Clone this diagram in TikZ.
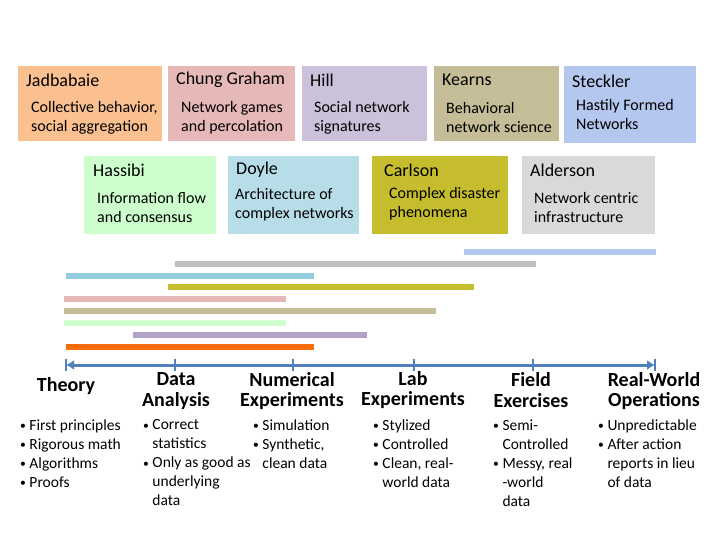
\documentclass[tikz,border=0pt]{standalone}
\usepackage{fontspec}
\setmainfont{Carlito}
\usetikzlibrary{positioning,arrows.meta}

% box and bar colours
\definecolor{cJad}{HTML}{FAC090}
\definecolor{cChung}{HTML}{E6B9B8}
\definecolor{cHill}{HTML}{CCC1DA}
\definecolor{cKearns}{HTML}{C4BD97}
\definecolor{cSteck}{HTML}{B4C7EE}
\definecolor{cHass}{HTML}{CCFFCC}
\definecolor{cDoyle}{HTML}{B7DEE8}
\definecolor{cCarl}{HTML}{C5BD2D}
\definecolor{cAlder}{HTML}{D9D9D9}
\definecolor{bDoyle}{HTML}{93CDDD}
\definecolor{bGray}{HTML}{BFBFBF}
\definecolor{bHill}{HTML}{B3A2C7}
\definecolor{bOrange}{HTML}{F96C0A}
\definecolor{axisblue}{HTML}{4F81BD}

\begin{document}
\begin{tikzpicture}[x=1pt,y=-1pt,
  pbox/.style={rectangle, anchor=north west, inner sep=0, outer sep=0},
  ptitle/.style={anchor=west, inner sep=0, font=\fontsize{18}{21}\selectfont},
  pbody/.style={anchor=west, align=left, inner sep=0, font=\fontsize{16}{19}\selectfont},
  bar/.style={line width=6.5pt},
  head/.style={align=center, inner sep=0, font=\fontsize{20}{20.5}\selectfont\bfseries},
  items/.style={anchor=west, align=left, inner sep=0, font=\fontsize{15.5}{19}\selectfont},
  axis/.style={draw=axisblue, line width=3pt, {Latex[length=8pt,width=10pt]}-{Latex[length=8pt,width=10pt]}},
  tick/.style={draw=axisblue, line width=2pt}]
\useasboundingbox (0,0) rectangle (720,540);
\def\bul{\raisebox{0.1ex}{\scalebox{0.75}{\textbullet}}\ }
\def\ind{\hphantom{\bul}}

% first row of people
\node[pbox, fill=cJad, minimum width=144, minimum height=75] (jad) at (18,66) {};
\node[ptitle] (jadT) at (26,80) {Jadbabaie};
\node[pbody] (jadB) at (31,118) {Collective behavior,\\social aggregation};
\node[pbox, fill=cChung, minimum width=127, minimum height=75] (chung) at (168,66) {};
\node[ptitle] (chungT) at (176,80) {Chung Graham};
\node[pbody] (chungB) at (181,118) {Network games\\and percolation};
\node[pbox, fill=cHill, minimum width=125, minimum height=75] (hill) at (302,66) {};
\node[ptitle] (hillT) at (310,80) {Hill};
\node[pbody] (hillB) at (314,118) {Social network\\signatures};
\node[pbox, fill=cKearns, minimum width=125, minimum height=75] (kearns) at (434,66) {};
\node[ptitle] (kearnsT) at (442,80) {Kearns};
\node[pbody] (kearnsB) at (446,118) {Behavioral\\network science};
\node[pbox, fill=cSteck, minimum width=132, minimum height=77] (steck) at (564,66) {};
\node[ptitle] (steckT) at (572,81) {Steckler};
\node[pbody] (steckB) at (576,115) {Hastily Formed\\Networks};

% second row of people
\node[pbox, fill=cHass, minimum width=132, minimum height=78] (hass) at (84,156) {};
\node[ptitle] (hassT) at (93,170) {Hassibi};
\node[pbody] (hassB) at (97,208) {Information flow\\and consensus};
\node[pbox, fill=cDoyle, minimum width=131, minimum height=78] (doyle) at (228,156) {};
\node[ptitle] (doyleT) at (236,170) {Doyle};
\node[pbody] (doyleB) at (235,205) {Architecture of\\complex networks};
\node[pbox, fill=cCarl, minimum width=136, minimum height=78] (carl) at (372,156) {};
\node[ptitle] (carlT) at (384,170) {Carlson};
\node[pbody] (carlB) at (389,204) {Complex disaster\\phenomena};
\node[pbox, fill=cAlder, minimum width=133, minimum height=78] (alder) at (522,156) {};
\node[ptitle] (alderT) at (530,170) {Alderson};
\node[pbody] (alderB) at (534,208) {Network centric\\infrastructure};

% time bars
\draw[bar, cSteck] (464,252) -- (656,252);
\draw[bar, bGray] (175,264) -- (536,264);
\draw[bar, bDoyle] (66,276) -- (314,276);
\draw[bar, cCarl] (168,287) -- (474,287);
\draw[bar, cChung] (64,299) -- (286,299);
\draw[bar, cKearns] (64,311) -- (436,311);
\draw[bar, cHass] (64,323) -- (286,323);
\draw[bar, bHill] (133,335) -- (367,335);
\draw[bar, bOrange] (66,347) -- (314,347);

% axis
\coordinate (ax1) at (66,365);
\coordinate (ax2) at (175,365);
\coordinate (ax3) at (293,365);
\coordinate (ax4) at (414,365);
\coordinate (ax5) at (533,365);
\coordinate (ax6) at (655,365);
\draw[axis] (ax1) -- (ax6);
\foreach \t in {ax1,ax2,ax3,ax4,ax5,ax6}
  \draw[tick] (\t) ++(0,-6) -- ++(0,12);

% headings
\node[head] (theory) at (66,386) {Theory};
\node[head] (data) at (176,391) {Data\\Analysis};
\node[head] (numer) at (292,391) {Numerical\\Experiments};
\node[head] (lab) at (413,390) {Lab\\Experiments};
\node[head] (field) at (531,390) {Field\\Exercises};
\node[head] (real) at (654,391) {Real-World\\Operations};

% bullet lists
\node[items] (theoryL) at (20,453.5) {\bul First principles\\\bul Rigorous math\\\bul Algorithms\\\bul Proofs};
\node[items] (dataL) at (143,463) {\bul Correct\\\ind statistics\\\bul Only as good as\\\ind underlying\\\ind data};
\node[items] (numerL) at (253,444) {\bul Simulation\\\bul Synthetic,\\\ind clean data};
\node[items] (labL) at (373,453.5) {\bul Stylized\\\bul Controlled\\\bul Clean, real-\\\ind world data};
\node[items] (fieldL) at (493,463) {\bul Semi-\\\ind Controlled\\\bul Messy, real\\\ind -world\\\ind data};
\node[items] (realL) at (598,453.5) {\bul Unpredictable\\\bul After action\\\ind reports in lieu\\\ind of data};
\end{tikzpicture}
\end{document}
